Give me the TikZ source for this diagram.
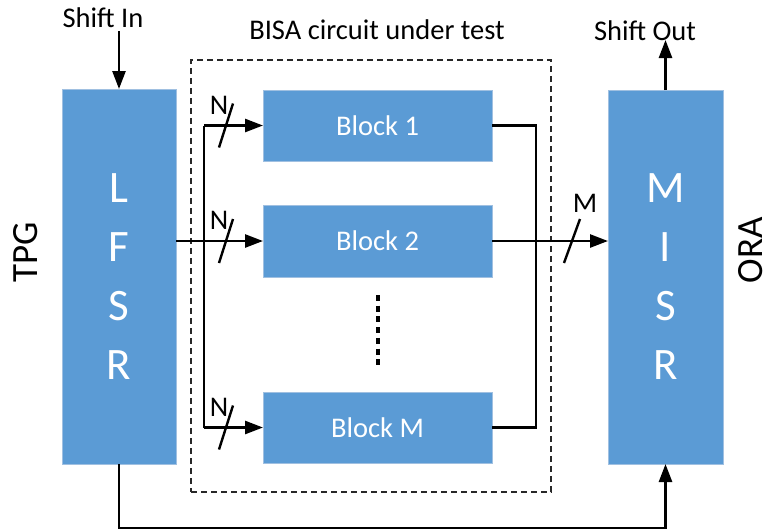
\documentclass[tikz,border=0pt]{standalone}
\usepackage{fontspec}
\setmainfont{Carlito}
\usetikzlibrary{arrows.meta}
\definecolor{boxblue}{RGB}{91,155,213}
\definecolor{boxedge}{RGB}{160,192,225}
\definecolor{dashgray}{RGB}{40,40,40}
\begin{document}
\begin{tikzpicture}[x=1pt,y=-1pt,
  blk/.style={fill=boxblue,draw=boxedge,line width=0.8pt,inner sep=0pt,outer sep=0pt,text=white},
  wire/.style={line width=2.6pt},
  arr/.style={wire,-{Triangle[length=18pt,width=13pt]}},
  slash/.style={line width=2.4pt},
  lbl/.style={font=\fontsize{28.5}{32}\selectfont},
  side/.style={font=\fontsize{37}{44}\selectfont,inner sep=0pt},
  big/.style={font=\fontsize{45}{59}\selectfont}]
\useasboundingbox (0,0) rectangle (770,531);
% frame of the circuit under test
\node[draw=dashgray,line width=1.2pt,dash pattern=on 6pt off 4pt,minimum width=360pt,minimum height=432pt,inner sep=0pt,outer sep=0pt] (dut) at (371,276) {};
\node[lbl] (dutlbl) at (377,30) {BISA circuit under test};
% main boxes
\node[blk,big,minimum width=114pt,minimum height=375pt,align=center] (lfsr) at (119,276.5) {L\\F\\S\\R};
\node[blk,big,minimum width=115pt,minimum height=374pt,align=center] (misr) at (665.5,277) {M\\I\\S\\R};
\node[blk,lbl,minimum width=229pt,minimum height=71pt] (b1) at (377.5,125.5) {Block 1};
\node[blk,lbl,minimum width=229pt,minimum height=72pt] (b2) at (377.5,241) {Block 2};
\node[blk,lbl,minimum width=229pt,minimum height=71pt] (bM) at (377.5,427.5) {Block M};
% side labels
\node[side,rotate=90] (tpg) at (26,252) {TPG};
\node[side,rotate=90] (ora) at (751,250) {ORA};
% shift in / out
\node[lbl] (sin) at (103,18) {Shift In};
\node[lbl] (sout) at (645,31) {Shift Out};
\coordinate (sinEnd) at (119,31);
\coordinate (soutEnd) at (665.5,40);
\draw[arr] (sinEnd) -- (lfsr.north);
\draw[arr] (misr.north) -- (soutEnd);
% input bus
\coordinate (busTop) at (204,125.5);
\coordinate (busBot) at (204,427.5);
\draw[wire] (busTop) -- (busBot);
\draw[arr] (lfsr.east |- b2) -- (b2.west);
\draw[arr] (busTop) -- (b1.west);
\draw[arr] (busBot) -- (bM.west);
% N slashes
\draw[slash] (226,125.5) ++(-7,22) -- ++(14,-44);
\draw[slash] (226,241) ++(-7,22) -- ++(14,-44);
\draw[slash] (226,427.5) ++(-7,22) -- ++(14,-44);
\node[lbl] (n1) at (219,105) {N};
\node[lbl] (n2) at (219,220) {N};
\node[lbl] (n3) at (219,407) {N};
% output bus
\coordinate (outTop) at (536,125.5);
\coordinate (outBot) at (536,427.5);
\draw[wire] (b1.east) -- (outTop) -- (outBot) -- (bM.east);
\draw[arr] (b2.east) -- (misr.west |- b2);
\draw[slash] (572,241) ++(-8,22) -- ++(16,-44);
\node[lbl] (mlbl) at (585,203) {M};
% dots between blocks
\draw[line width=4pt,dash pattern=on 6pt off 4.7pt] (378,295) -- (378,365);
% feedback path
\draw[arr] (lfsr.south) -- ++(0,64) -| (misr.south);
\end{tikzpicture}
\end{document}
